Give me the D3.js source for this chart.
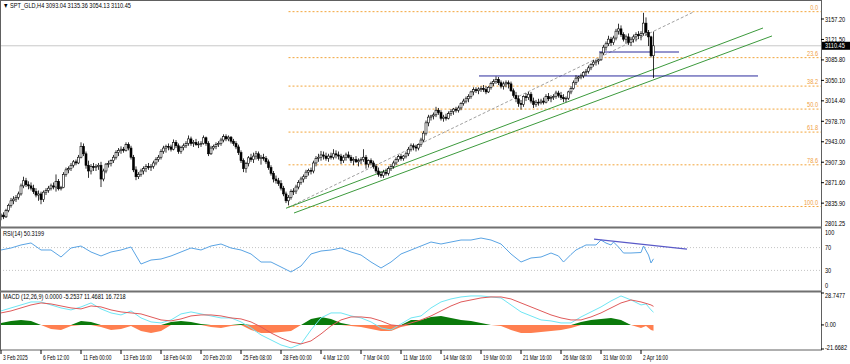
<!DOCTYPE html>
<html>
<head>
<meta charset="utf-8">
<script src="https://cdn.jsdelivr.net/npm/d3@7"></script>
<style>
  body { margin: 0; background: #fff; }
  svg { display: block; }
  text { font-family: "Liberation Sans", Arial, sans-serif; }
</style>
</head>
<body>
<svg id="chart" width="850" height="364"></svg>
<script>
// SPT_GLD H4 candles: [open, high, low, close], one per bar
const candles = [
  [2813,2818,2806,2815],[2815,2820,2808,2812],[2812,2826,2810,2823],[2823,2835,2820,2832],
  [2832,2845,2828,2840],[2840,2848,2834,2843],[2843,2850,2838,2846],[2846,2856,2842,2852],
  [2852,2870,2849,2866],[2866,2882,2862,2875],[2875,2880,2864,2868],[2868,2874,2860,2866],
  [2866,2872,2858,2862],[2862,2868,2852,2856],[2856,2862,2846,2850],[2850,2858,2840,2852],
  [2852,2856,2834,2842],[2842,2858,2838,2855],[2855,2862,2850,2858],[2858,2866,2854,2862],
  [2862,2870,2858,2866],[2866,2872,2860,2864],[2864,2886,2856,2874],[2874,2878,2858,2861],
  [2861,2866,2858,2863],[2863,2890,2862,2886],[2886,2898,2882,2894],[2894,2900,2888,2896],
  [2896,2906,2892,2902],[2902,2911,2898,2908],[2908,2912,2902,2906],[2906,2920,2904,2916],
  [2916,2942,2914,2935],[2935,2940,2918,2922],[2922,2926,2896,2902],[2902,2910,2880,2892],
  [2892,2904,2886,2900],[2900,2906,2892,2898],[2898,2904,2892,2900],[2900,2906,2894,2902],
  [2902,2908,2864,2878],[2878,2896,2874,2892],[2892,2906,2888,2904],[2904,2910,2898,2905],
  [2905,2912,2900,2910],[2910,2920,2906,2916],[2916,2928,2912,2924],[2924,2932,2918,2928],
  [2928,2935,2922,2930],[2930,2934,2924,2928],[2928,2942,2926,2938],[2938,2942,2928,2932],
  [2932,2936,2912,2916],[2916,2920,2890,2894],[2894,2900,2876,2882],[2882,2890,2878,2886],
  [2886,2896,2882,2892],[2892,2900,2886,2896],[2896,2904,2890,2900],[2900,2906,2894,2898],
  [2898,2904,2892,2900],[2900,2910,2896,2906],[2906,2916,2902,2912],[2912,2920,2908,2916],
  [2916,2930,2912,2926],[2926,2936,2922,2932],[2932,2938,2924,2935],[2935,2940,2928,2934],
  [2934,2938,2926,2930],[2930,2947,2928,2942],[2942,2946,2932,2936],[2936,2940,2922,2926],
  [2926,2936,2922,2933],[2933,2940,2928,2936],[2936,2944,2932,2940],[2940,2954,2936,2948],
  [2948,2952,2936,2940],[2940,2946,2934,2942],[2942,2948,2936,2938],[2938,2944,2932,2939],
  [2939,2944,2934,2940],[2940,2954,2938,2950],[2950,2952,2936,2940],[2940,2944,2918,2922],
  [2922,2936,2920,2932],[2932,2938,2928,2935],[2935,2942,2930,2938],[2938,2944,2934,2940],
  [2940,2950,2936,2946],[2946,2956,2942,2952],[2952,2956,2944,2948],[2948,2954,2944,2951],
  [2951,2953,2940,2944],[2944,2948,2936,2940],[2940,2944,2930,2934],[2934,2938,2920,2924],
  [2924,2928,2906,2910],[2910,2914,2890,2896],[2896,2908,2889,2905],[2905,2918,2900,2915],
  [2915,2922,2908,2912],[2912,2924,2906,2918],[2918,2927,2912,2922],[2922,2926,2910,2914],
  [2914,2920,2903,2916],[2916,2922,2910,2914],[2914,2918,2904,2908],[2908,2912,2894,2898],
  [2898,2902,2884,2888],[2888,2892,2872,2878],[2878,2884,2870,2875],[2875,2880,2866,2870],
  [2870,2876,2858,2862],[2862,2866,2848,2852],[2852,2856,2836,2840],[2840,2850,2832,2846],
  [2846,2860,2842,2856],[2856,2862,2850,2857],[2857,2868,2852,2864],[2864,2876,2860,2872],
  [2872,2882,2868,2878],[2878,2886,2872,2882],[2882,2894,2878,2890],[2890,2896,2884,2893],
  [2893,2898,2886,2892],[2892,2910,2888,2906],[2906,2918,2900,2914],[2914,2922,2908,2916],
  [2916,2927,2910,2920],[2920,2926,2912,2918],[2918,2924,2910,2914],[2914,2922,2908,2918],
  [2918,2924,2912,2916],[2916,2930,2912,2922],[2922,2928,2914,2920],[2920,2926,2912,2918],
  [2918,2922,2904,2910],[2910,2920,2906,2916],[2916,2924,2910,2920],[2920,2926,2914,2916],
  [2916,2920,2906,2910],[2910,2916,2902,2912],[2912,2918,2906,2908],[2908,2914,2900,2910],
  [2910,2916,2904,2912],[2912,2930,2908,2916],[2916,2920,2896,2904],[2904,2912,2898,2910],
  [2910,2914,2902,2906],[2906,2910,2896,2900],[2900,2904,2888,2892],[2892,2898,2882,2886],
  [2886,2892,2880,2884],[2884,2894,2880,2890],[2890,2896,2884,2888],[2888,2900,2884,2896],
  [2896,2904,2892,2900],[2900,2910,2896,2906],[2906,2916,2902,2912],[2912,2920,2908,2917],
  [2917,2922,2910,2914],[2914,2920,2910,2918],[2918,2926,2914,2922],[2922,2934,2918,2930],
  [2930,2940,2926,2936],[2936,2940,2928,2934],[2934,2938,2926,2932],[2932,2940,2928,2938],
  [2938,2950,2934,2946],[2946,2962,2942,2958],[2958,2980,2954,2976],[2976,2990,2970,2986],
  [2986,2990,2980,2988],[2988,2994,2982,2990],[2990,3004,2986,2998],[2998,3002,2990,2994],
  [2994,2998,2980,2984],[2984,2990,2978,2986],[2986,2992,2980,2984],[2984,2996,2982,2992],
  [2992,3000,2988,2996],[2996,3002,2990,3000],[3000,3004,2994,2998],[2998,3006,2994,3002],
  [3002,3012,2998,3010],[3010,3018,3006,3014],[3014,3022,3010,3018],[3018,3026,3012,3022],
  [3022,3032,3018,3030],[3030,3038,3024,3034],[3034,3038,3028,3032],[3032,3038,3026,3035],
  [3035,3040,3030,3036],[3036,3042,3030,3034],[3034,3040,3026,3030],[3030,3040,3028,3038],
  [3038,3048,3034,3045],[3045,3052,3040,3048],[3048,3057,3044,3052],[3052,3056,3042,3046],
  [3046,3050,3036,3040],[3040,3048,3034,3044],[3044,3050,3038,3046],[3046,3050,3036,3044],
  [3044,3048,3030,3032],[3032,3036,3020,3024],[3024,3030,3012,3018],[3018,3024,3004,3010],
  [3010,3016,2999,3008],[3008,3024,3004,3022],[3022,3028,3014,3020],[3020,3030,3016,3026],
  [3026,3030,3010,3014],[3014,3020,3002,3008],[3008,3016,3004,3012],[3012,3018,3006,3011],
  [3011,3018,3008,3014],[3014,3020,3008,3012],[3012,3026,3010,3022],[3022,3028,3014,3018],
  [3018,3024,3012,3020],[3020,3026,3016,3022],[3022,3032,3018,3028],[3028,3032,3020,3024],
  [3024,3030,3016,3020],[3020,3026,3012,3018],[3018,3022,3012,3019],[3019,3032,3016,3030],
  [3030,3040,3026,3036],[3036,3050,3034,3046],[3046,3059,3042,3054],[3054,3058,3048,3056],
  [3056,3062,3052,3058],[3058,3066,3054,3064],[3064,3070,3058,3066],[3066,3076,3062,3072],
  [3072,3080,3068,3078],[3078,3086,3074,3082],[3082,3086,3076,3084],[3084,3088,3078,3086],
  [3086,3100,3084,3098],[3098,3112,3094,3108],[3108,3118,3102,3114],[3114,3128,3110,3122],
  [3122,3126,3110,3116],[3116,3128,3112,3124],[3124,3140,3120,3136],[3136,3149,3130,3140],
  [3140,3146,3126,3130],[3130,3134,3118,3122],[3122,3130,3114,3126],[3126,3132,3112,3116],
  [3116,3126,3110,3122],[3122,3130,3116,3126],[3126,3134,3118,3130],[3130,3136,3122,3128],
  [3128,3136,3120,3132],[3132,3168,3128,3150],[3150,3160,3128,3134],[3134,3138,3110,3126],
  [3126,3128,3090,3093.04],[3093.04,3135.36,3054.13,3110.45]
];

// x axis tick labels, one every 16 bars
const timeLabels = ["3 Feb 2025","6 Feb 12:00","11 Feb 00:00","13 Feb 16:00","18 Feb 04:00",
  "20 Feb 20:00","25 Feb 08:00","28 Feb 00:00","4 Mar 12:00","7 Mar 04:00","11 Mar 16:00",
  "14 Mar 08:00","19 Mar 00:00","21 Mar 16:00","26 Mar 08:00","31 Mar 00:00","2 Apr 16:00"];
const priceTicks = [3157.20,3121.50,3085.80,3050.10,3014.40,2978.70,2943.00,2907.30,2871.60,2835.90];
const priceBottom = 2801.25;
const lastPrice = 3110.45;

// fibonacci retracement between the Feb 28 low and the Apr 3 high
const fibLevels = [0, 23.6, 38.2, 50, 61.8, 78.6, 100];
const fibHigh = 3170, fibLow = 2830, fibStartBar = 115;

// drawn objects, in [bar, price]
const channelLines = [[[114, 2827], [304.8, 3141.5]], [[117.2, 2818.7], [308.4, 3127.6]]];
const dashedTrend = [[115.2, 2829], [276.8, 3169]];
const levelLines = [[[239.2, 3099.6], [271.2, 3099.6]], [[191.2, 3057.8], [302.8, 3057.8]]];
const rsiTrend = [[237.2, 85], [274.4, 67.5]];

// RSI(14): [bar, value]
const rsiPoints = [
  [0,65.8],[4,69.3],[8,74.6],[12,78.1],[16,65.8],[20,65.8],[24,53.5],[28,69.3],[32,72.8],
  [36,62.3],[40,55.3],[44,62.3],[48,65.8],[52,71.1],[56,41.2],[60,48.2],[64,50.0],[68,55.3],
  [72,62.3],[76,69.3],[80,65.8],[84,72.8],[88,76.3],[92,69.3],[96,65.8],[100,58.8],[104,44.7],
  [108,44.7],[112,36.0],[116,27.2],[120,37.7],[124,58.8],[128,64.0],[132,65.8],[136,69.3],
  [140,62.3],[144,57.0],[148,44.7],[152,34.2],[156,44.7],[160,58.8],[164,65.8],[168,72.8],
  [172,79.8],[176,76.3],[180,79.8],[184,83.3],[188,83.3],[192,86.8],[196,83.3],[200,76.3],
  [204,58.8],[208,44.7],[212,51.8],[216,53.5],[220,60.5],[223,55.3],[225,44.7],[228,58.0],
  [230,65.8],[234,74.6],[238,74.6],[240,83.3],[242,78.0],[244,74.6],[245,79.8],[247,71.0],
  [249,60.5],[252,60.5],[256,61.4],[257,72.8],[259,57.0],[260,43.0],[261,50.32]
];
const rsiLevels = [70, 30];
const rsiTicks = [100, 70, 30, 0];

// MACD(12,26,9): [bar, main, signal, histogram]
const macdPoints = [
  [0,12.6,10.8,1.8],[4,15.3,12.6,3.6],[8,18.0,15.3,4.5],[12,20.7,18.0,3.6],[16,20.7,19.8,0],
  [20,18.0,18.9,-3.6],[24,15.3,17.1,-4.5],[28,13.5,15.3,-0.9],[32,16.2,14.4,3.6],[36,19.8,17.1,2.7],
  [40,14.4,16.2,-1.8],[44,10.8,13.5,-4.5],[48,9.0,11.7,-3.6],[52,12.6,10.8,-0.9],[56,6.3,9.9,-5.4],
  [60,2.7,7.2,-7.2],[64,1.8,4.5,-5.4],[68,4.5,3.6,2.7],[72,9.9,5.4,3.6],[76,11.7,8.1,2.7],
  [80,9.9,9.0,0.9],[84,8.1,9.0,-1.8],[88,6.3,8.1,-2.7],[92,6.3,6.3,-0.9],[96,2.7,5.4,0.9],
  [100,-2.7,2.7,-4.5],[104,-9.0,-1.8,-7.2],[108,-13.5,-7.2,-7.2],[112,-18.0,-11.7,-6.3],
  [116,-20.7,-15.3,-5.4],[120,-17.1,-17.1,0],[124,-4.5,-14.4,5.4],[128,6.3,-8.1,7.2],
  [132,10.8,-0.9,5.4],[136,10.8,4.5,1.8],[140,8.1,7.2,-0.9],[144,6.3,7.2,-1.8],[148,2.7,6.3,-3.6],
  [152,-2.7,3.6,-5.4],[156,-4.5,0,-5.4],[160,0.9,-0.9,-1.8],[164,6.3,1.8,4.5],[168,8.1,4.5,4.5],
  [172,15.3,8.1,7.2],[176,20.7,12.6,8.1],[180,23.4,17.1,6.3],[184,25.2,20.7,4.5],[188,26.1,22.5,3.6],
  [192,26.1,24.3,1.8],[196,25.2,25.2,0],[200,24.3,25.2,-0.9],[204,18.0,23.4,-4.5],[208,11.7,19.8,-7.2],
  [212,8.1,16.2,-7.2],[216,4.5,12.6,-6.3],[220,3.6,9.0,-5.4],[224,1.8,6.3,-4.5],[228,1.8,4.5,-2.7],
  [232,7.2,4.5,2.7],[236,11.7,7.2,4.5],[240,16.2,10.8,5.4],[244,21.6,15.3,6.3],[248,26.1,19.8,4.5],
  [252,22.5,22.5,0],[256,18.0,20.7,-2.7],[258,18.9,19.4,-1.0],[260,13.5,18.0,-4.5],
  [261,11.4681,16.7218,-5.2537]
];
const macdTicks = [28.7477, 0, -21.6682];

const svg = d3.select('#chart');
const plotRight = 821;
const x = d3.scaleLinear().domain([0, 328]).range([1, plotRight]);
const yP = d3.scaleLinear().domain([priceBottom, 3157.2]).range([223, 19]);
const yR = d3.scaleLinear().domain([0, 100]).range([287.5, 230.5]);
const yM = d3.scaleLinear().domain([-21.6682, 28.7477]).range([349, 293]);

function txt(sel, px, py, s, o = {}) {
  return sel.append('text')
    .attr('transform', `translate(${px},${py}) scale(${o.sx || 0.8},1)`)
    .attr('font-size', o.size || 7)
    .attr('fill', o.fill || '#000')
    .attr('text-anchor', o.anchor || 'start')
    .text(s);
}

const defs = svg.append('defs');
[['clipMain', 1, 226], ['clipRsi', 229, 61], ['clipMacd', 293, 57]].forEach(([id, top, h]) => {
  defs.append('clipPath').attr('id', id).append('rect')
    .attr('x', 1).attr('y', top).attr('width', plotRight - 1).attr('height', h);
});

// ---- main panel ----
const main = svg.append('g').attr('clip-path', 'url(#clipMain)');

main.append('line')
  .attr('x1', 0).attr('x2', plotRight).attr('y1', yP(lastPrice)).attr('y2', yP(lastPrice))
  .attr('stroke', '#c8c8c8').attr('stroke-width', 1);

fibLevels.forEach(l => {
  const p = fibHigh - (fibHigh - fibLow) * l / 100;
  main.append('line')
    .attr('x1', x(fibStartBar)).attr('x2', plotRight).attr('y1', yP(p)).attr('y2', yP(p))
    .attr('stroke', '#f2a43a').attr('stroke-width', 1).attr('stroke-dasharray', '2,2');
  txt(svg, plotRight - 3, yP(p) - 2, l.toFixed(1), { anchor: 'end', fill: '#f0a040' });
});

const segLine = (g, pts, color, dash, w) => g.append('line')
  .attr('x1', x(pts[0][0])).attr('y1', yP(pts[0][1]))
  .attr('x2', x(pts[1][0])).attr('y2', yP(pts[1][1]))
  .attr('stroke', color).attr('stroke-width', w || 1)
  .attr('stroke-dasharray', dash || null);

segLine(main, dashedTrend, '#a0a0a0', '3,2');
channelLines.forEach(l => segLine(main, l, '#3c9a3c'));
levelLines.forEach(l => segLine(main, l, '#2b2b9c'));

const cg = main.append('g');
cg.selectAll('line.wick').data(candles).join('line').attr('class', 'wick')
  .attr('x1', (d, i) => x(i)).attr('x2', (d, i) => x(i))
  .attr('y1', d => yP(d[1])).attr('y2', d => yP(d[2]))
  .attr('stroke', '#000').attr('stroke-width', 0.8);
cg.selectAll('rect.body').data(candles).join('rect').attr('class', 'body')
  .attr('x', (d, i) => x(i) - 1).attr('width', 2)
  .attr('y', d => yP(Math.max(d[0], d[3])))
  .attr('height', d => Math.max(0.8, Math.abs(yP(d[0]) - yP(d[3]))))
  .attr('fill', d => d[3] >= d[0] ? '#fff' : '#000')
  .attr('stroke', '#000').attr('stroke-width', 0.6);

txt(svg, 3, 8, '\u25BC SPT_GLD,H4  3093.04 3135.36 3054.13 3110.45');

// ---- RSI panel ----
const rsiG = svg.append('g').attr('clip-path', 'url(#clipRsi)');
rsiLevels.forEach(v => rsiG.append('line')
  .attr('x1', 0).attr('x2', plotRight).attr('y1', yR(v)).attr('y2', yR(v))
  .attr('stroke', '#c4c4c4').attr('stroke-dasharray', '1,2'));
rsiG.append('path').datum(rsiPoints)
  .attr('d', d3.line().x(d => x(d[0])).y(d => yR(d[1])))
  .attr('fill', 'none').attr('stroke', '#5aa4e4').attr('stroke-width', 1);
rsiG.append('line')
  .attr('x1', x(rsiTrend[0][0])).attr('y1', yR(rsiTrend[0][1]))
  .attr('x2', x(rsiTrend[1][0])).attr('y2', yR(rsiTrend[1][1]))
  .attr('stroke', '#5a5ac8').attr('stroke-width', 1.3);
txt(svg, 3, 236, 'RSI(14) 50.3199');

// ---- MACD panel ----
const macdG = svg.append('g').attr('clip-path', 'url(#clipMacd)');
const histArea = sign => d3.area()
  .x(d => x(d[0]))
  .y0(yM(0))
  .y1(d => yM(sign > 0 ? Math.max(0, d[3]) : Math.min(0, d[3])));
macdG.append('path').datum(macdPoints).attr('d', histArea(1)).attr('fill', '#0b7a0b');
macdG.append('path').datum(macdPoints).attr('d', histArea(-1)).attr('fill', '#ff7f50');
macdG.append('path').datum(macdPoints)
  .attr('d', d3.line().x(d => x(d[0])).y(d => yM(d[1])))
  .attr('fill', 'none').attr('stroke', '#6fe6f4').attr('stroke-width', 1);
macdG.append('path').datum(macdPoints)
  .attr('d', d3.line().x(d => x(d[0])).y(d => yM(d[2])))
  .attr('fill', 'none').attr('stroke', '#e05a5a').attr('stroke-width', 1);
txt(svg, 3, 299, 'MACD  (12,26,9) 0.0000 -5.2537 11.4681 16.7218');

// ---- frames ----
const frame = svg.append('g').attr('fill', 'none');
frame.append('rect').attr('x', 0.5).attr('y', 0.5).attr('width', plotRight).attr('height', 349.5)
  .attr('stroke', '#606060');
[227.5, 291.5].forEach(y => frame.append('line')
  .attr('x1', 0).attr('x2', plotRight + 1).attr('y1', y).attr('y2', y)
  .attr('stroke', '#707070').attr('stroke-width', 2));

// ---- right axis ----
const axisG = svg.append('g');
const rightTick = (y, label, dy) => {
  axisG.append('line').attr('x1', plotRight).attr('x2', plotRight + 3).attr('y1', y).attr('y2', y)
    .attr('stroke', '#000');
  txt(axisG, plotRight + 4, y + (dy == null ? 2.5 : dy), label);
};
priceTicks.forEach(p => rightTick(yP(p), p.toFixed(2)));
txt(axisG, plotRight + 4, yP(priceBottom) + 2.5, priceBottom.toFixed(2));
axisG.append('rect').attr('x', plotRight + 1).attr('y', yP(lastPrice) - 4)
  .attr('width', 28).attr('height', 8).attr('fill', '#000');
txt(axisG, plotRight + 4, yP(lastPrice) + 2.5, lastPrice.toFixed(2), { fill: '#fff' });
// RSI scale: top label sits under the separator, bottom label above the next one
rsiTicks.forEach(v => txt(axisG, plotRight + 4, yR(v) + (v === 100 ? 4 : v === 0 ? 0.5 : 2.5), String(v)));
macdTicks.forEach((v, k) => rightTick(yM(v), v === 0 ? '0.00' : String(v), k === 0 ? 5 : k === 2 ? 0.5 : 2.5));

// ---- time axis ----
timeLabels.forEach((s, k) => {
  const px = x(k * 16);
  axisG.append('line').attr('x1', px).attr('x2', px).attr('y1', 350).attr('y2', 354)
    .attr('stroke', '#000');
  txt(axisG, px + 2, 360, s, { sx: 0.7 });
});
</script>
</body>
</html>
